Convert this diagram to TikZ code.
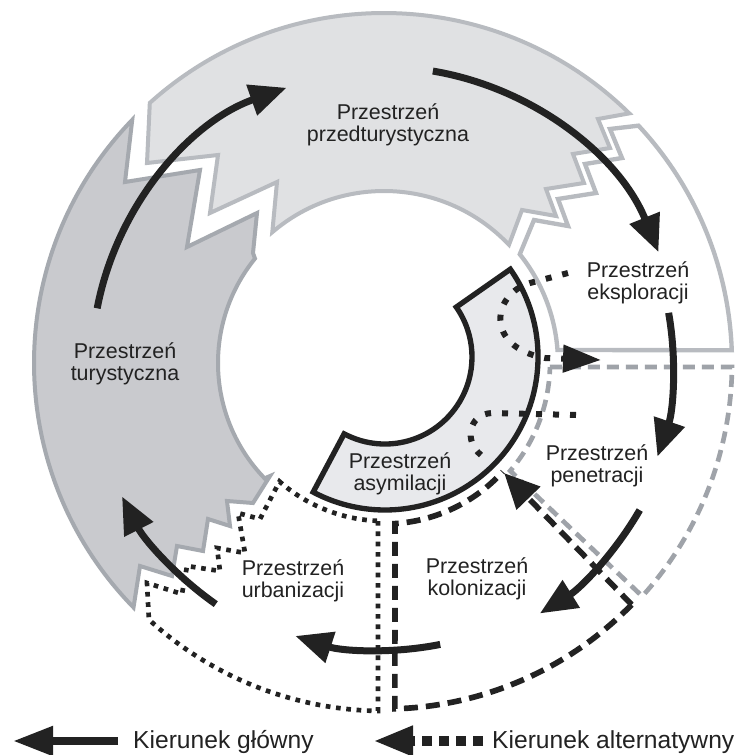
\documentclass[tikz,border=0pt]{standalone}
\usepackage{fontspec}
\setmainfont{Liberation Sans}
\usetikzlibrary{arrows.meta}
\definecolor{lgfill}{HTML}{E0E1E3}
\definecolor{lgedge}{HTML}{B8BBC0}
\definecolor{dgfill}{HTML}{C9CACE}
\definecolor{dgedge}{HTML}{A5A9AF}
\definecolor{asfill}{HTML}{E8E9EC}
\definecolor{ink}{HTML}{222222}
\definecolor{pengray}{HTML}{9FA3A9}
\begin{document}
\begin{tikzpicture}[x=0.03cm,y=0.03cm,yscale=-1,
  lab/.style={font=\fontsize{18.3}{19.2}\selectfont, align=center, text=ink, inner sep=0pt},
  leg/.style={font=\fontsize{21}{24}\selectfont, text=ink, inner sep=0pt, anchor=base west},
  mainarr/.style={draw=ink, line width=0.21cm, -{Triangle[length=1.11cm, width=0.93cm]}},
  altdot/.style={draw=ink, line width=0.18cm, dash pattern=on 0.18cm off 0.33cm},
  coldash/.style={draw=ink, line width=0.17cm, dash pattern=on 0.42cm off 0.24cm},
  pendash/.style={draw=pengray, line width=0.14cm, dash pattern=on 0.36cm off 0.21cm},
  urbdot/.style={draw=ink, line width=0.14cm, dash pattern=on 0.14cm off 0.17cm},
  lgseg/.style={fill=lgfill, draw=lgedge, line width=0.12cm, line join=miter},
  dgseg/.style={fill=dgfill, draw=dgedge, line width=0.12cm, line join=miter},
  ekseg/.style={fill=white, draw=lgedge, line width=0.13cm, line join=miter},
  asseg/.style={fill=asfill, draw=ink, line width=0.16cm, line join=miter},
  legsolid/.style={draw=ink, line width=0.24cm, -{Triangle[length=1.2cm, width=0.84cm]}},
  legdot/.style={draw=ink, line width=0.3cm, dash pattern=on 0.3cm off 0.21cm, -{Triangle[length=1.2cm, width=0.84cm]}}
]
\useasboundingbox (0,0) rectangle (737,755);
\fill[white] (0,0) rectangle (737,755);

% ring coordinates (centre of the ring)
\begin{scope}[shift={(384,363)}]
  \coordinate (O) at (0,0);
  \coordinate (lgL) at (228:350);
  \coordinate (lgIR) at (316.6:172);
  \coordinate (tT1) at (224:350);
  \coordinate (tIB) at (136:166);
  \coordinate (eO) at (317:348);
  \coordinate (pI) at (1.4:166);
  \coordinate (pIB) at (40.5:166);
  \coordinate (cR) at (44.3:346);
  \coordinate (cTip) at (42.5:163);
  \coordinate (uB) at (91:348);
  \coordinate (uI) at (131.4:158);
  \coordinate (a1s) at (190.8:292);
  \coordinate (a2s) at (279.5:296);
  \coordinate (a3s) at (350:289);
  \coordinate (a4s) at (29.9:295);
  \coordinate (a5s) at (78.7:287);
  \coordinate (a6s) at (124.9:294);
\end{scope}
\begin{scope}[shift={(385,357)}]
  \coordinate (aO1) at (-35:153);
  \coordinate (aI2) at (118:87);
\end{scope}

% Przestrzen przedturystyczna
\draw[lgseg] (lgL) arc[start angle=228,end angle=314.5,radius=350]
  -- (598,119) -- (610,148) -- (573,154) -- (584,183) -- (546,189) -- (556,216) -- (522,210)
  -- (lgIR) arc[start angle=316.6,end angle=229.5,radius=172]
  -- (277,182) -- (210,213) -- (218,155) -- (147,163) -- cycle;

% Przestrzen turystyczna
\draw[dgseg] (253,253) -- (257,213) -- (187,247) -- (200,170) -- (125,182)
  -- (tT1) arc[start angle=224,end angle=135.7,radius=350]
  -- (140,566) -- (172,576) -- (177,546) -- (203,551) -- (208,519) -- (230,526) -- (227,501) -- (253,503) -- (270,476)
  -- (tIB) arc[start angle=136,end angle=219,radius=166] -- cycle;

% Przestrzen eksploracji
\draw[ekseg] (eO) arc[start angle=317,end angle=357.9,radius=348]
  -- (557.5,350) arc[start angle=355.7,end angle=321.3,radius=174]
  -- (534,220) -- (568,226) -- (558,199) -- (596,193) -- (585,164) -- (622,158) -- (610,129) -- cycle;

% Przestrzen penetracji
\draw[pendash, fill=white] (pI) -- (732,367) arc[start angle=0.66,end angle=42.1,radius=348]
  -- (pIB) arc[start angle=40.5,end angle=1.4,radius=166] -- cycle;

% Przestrzen kolonizacji
\draw[coldash] (cR) arc[start angle=44.3,end angle=88.2,radius=346]
  -- (395,523.6) arc[start angle=86.1,end angle=42.5,radius=161];
\draw[coldash, -{Triangle[length=1.05cm,width=0.96cm]}] (cR) -- (cTip);

% Przestrzen urbanizacji
\draw[urbdot] (378,521) -- (uB) arc[start angle=91,end angle=132.5,radius=348]
  -- (147,583) -- (182,594) -- (187,566) -- (220,571) -- (217,548) -- (245,553) -- (238,513) -- (260,519)
  -- (uI) arc[start angle=131.4,end angle=92.2,radius=158] -- cycle;

% Przestrzen asymilacji
\draw[asseg] (aO1) arc[start angle=-35,end angle=118,radius=153]
  -- (aI2) arc[start angle=118,end angle=-35,radius=87] -- cycle;

% alternative (dotted) directions
\draw[altdot, -{Triangle[length=1.14cm,width=0.8cm]}] (568,273) -- (530,283)
  .. controls (492,294) and (484,347) .. (545,358) -- (601,360);
\draw[altdot] (576,415) -- (492,413) .. controls (468,414) and (464,442) .. (481,455);

% main directions
\draw[mainarr] (a1s) arc[start angle=190.8,end angle=250.5,radius=292];
\draw[mainarr] (a2s) arc[start angle=279.5,end angle=338,radius=296];
\draw[mainarr] (a3s) arc[start angle=350,end angle=378.9,radius=289];
\draw[mainarr] (a4s) arc[start angle=29.9,end angle=58.1,radius=295];
\draw[mainarr] (a5s) arc[start angle=78.7,end angle=108,radius=287];
\draw[mainarr] (a6s) arc[start angle=124.9,end angle=153,radius=294];

% labels
\node[lab] (Lpre) at (388,125) {Przestrzeń\\przedturystyczna};
\node[lab] (Ltur) at (125,364) {Przestrzeń\\turystyczna};
\node[lab] (Leks) at (638,283) {Przestrzeń\\eksploracji};
\node[lab] (Lpen) at (597,466) {Przestrzeń\\penetracji};
\node[lab] (Lkol) at (477,579) {Przestrzeń\\kolonizacji};
\node[lab] (Lurb) at (293,581) {Przestrzeń\\urbanizacji};
\node[lab] (Lasy) at (400,474) {Przestrzeń\\asymilacji};

% legend
\coordinate (lms) at (118,741);
\coordinate (lmt) at (13,741);
\coordinate (las) at (483,741);
\coordinate (lat) at (373,741);
\draw[legsolid] (lms) -- (lmt);
\draw[legdot] (las) -- (lat);
\node[leg] (legmain) at (133,748) {Kierunek główny};
\node[leg] (legalt) at (492,748) {Kierunek alternatywny};
\end{tikzpicture}
\end{document}
